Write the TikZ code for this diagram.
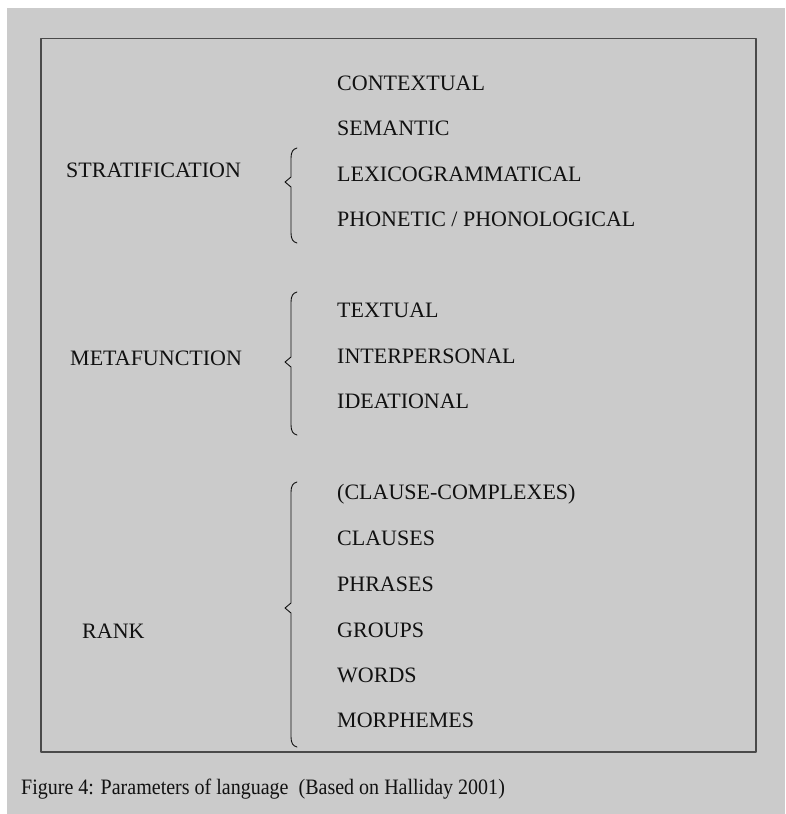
\documentclass[tikz,border=0pt]{standalone}
\usepackage{fontspec}
\setmainfont{Liberation Serif}
\definecolor{plPaper}{HTML}{CBCBCB}
\definecolor{plFrame}{HTML}{4A4A4A}
\definecolor{plInk}{HTML}{111111}
\newcommand{\PLType}{\fontsize{22}{26}\selectfont}
\tikzset{pl/base/.style={x=1pt,y=-1pt,line cap=round,line join=round,
  every node/.style={font=\PLType,inner sep=0pt,text=plInk}},
  pl/item/.style={anchor=base west},
  pl/brace/.style={draw=plInk,line width=.9pt},
  pl/frame/.style={draw=plFrame,line width=1.3pt,line cap=butt}}
% #1 top, #2 tip, #3 bottom of a left curly brace
\newcommand{\PLBrace}[3]{%
  \draw[pl/brace] (297,#1) .. controls (293,#1+1) and (291,#1+4) .. (291,#1+10)
    -- (291,#2-5) -- (285,#2) -- (291,#2+5) -- (291,#3-10)
    .. controls (291,#3-4) and (293,#3-1) .. (297,#3);}

\begin{document}
\begin{tikzpicture}[pl/base]
  \useasboundingbox (0,0) rectangle (785,814);
  \fill[white] (0,0) rectangle (785,814);
  \fill[plPaper] (7,8) rectangle (785,814);
  \draw[pl/frame] (41,38.5) rectangle (756,752);
  % strata, metafunctions, ranks
  \foreach \name/\y/\txt in {ctx/90/CONTEXTUAL,sem/135.5/SEMANTIC,
      lex/181/LEXICOGRAMMATICAL,pho/226.5/{PHONETIC / PHONOLOGICAL},
      txt/317/TEXTUAL,int/363/INTERPERSONAL,ide/408/IDEATIONAL,
      ccx/499/(CLAUSE-COMPLEXES),cla/545/CLAUSES,phr/591/PHRASES,
      grp/637/GROUPS,wrd/682/WORDS,mor/727/MORPHEMES}
    \node[pl/item] (\name) at (337,\y) {\txt};
  \node[pl/item] (strat) at (66,177) {STRATIFICATION};
  \node[pl/item] (meta) at (70,365) {METAFUNCTION};
  \node[pl/item] (rank) at (82,638) {RANK};
  \PLBrace{148}{182}{243}
  \PLBrace{292}{362}{435}
  \PLBrace{482}{608}{747}
  \node[pl/item] (caption) at (21,794)
    {\scalebox{.91}[1]{Figure 4: Parameters of language\ \ (Based on Halliday 2001)}};
\end{tikzpicture}
\end{document}
